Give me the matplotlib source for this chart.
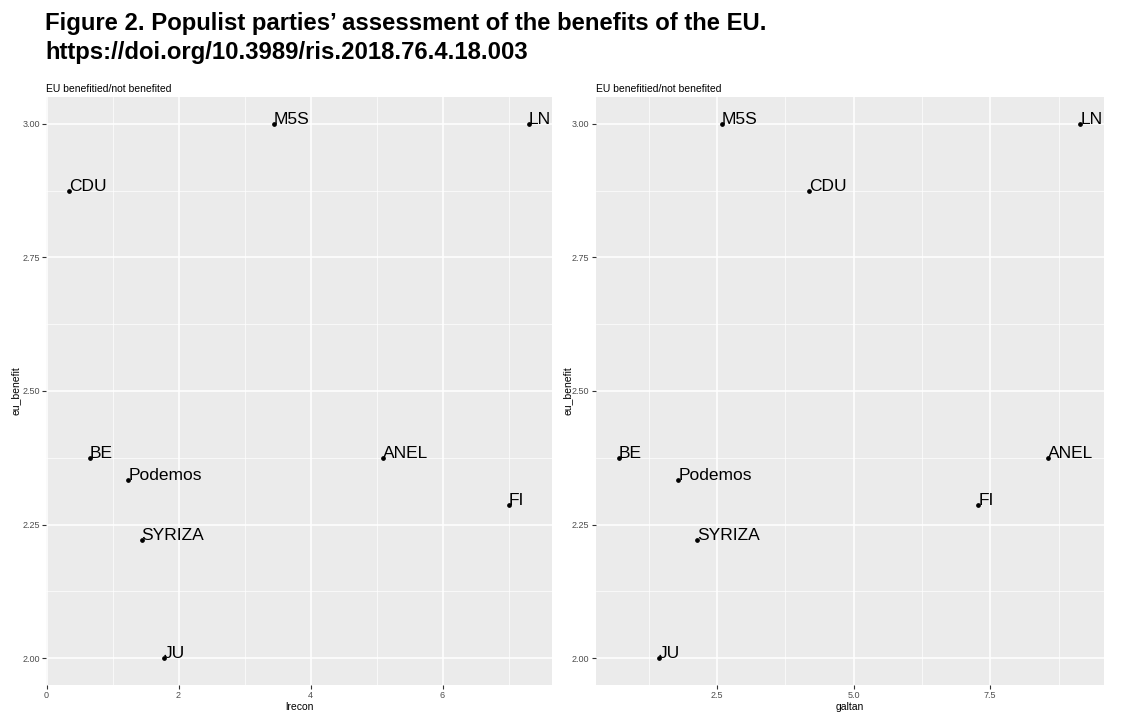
import numpy as np
import matplotlib.pyplot as plt
from matplotlib.ticker import FixedLocator

parties = ['M5S', 'LN', 'CDU', 'BE', 'Podemos', 'SYRIZA', 'JU', 'ANEL', 'FI']
eu_benefit = [3.0, 3.0, 2.875, 2.375, 2.333, 2.222, 2.0, 2.375, 2.286]
lrecon = [3.44, 7.31, 0.34, 0.66, 1.24, 1.44, 1.78, 5.10, 7.00]
galtan = [2.59, 9.15, 4.18, 0.70, 1.79, 2.14, 1.44, 8.55, 7.28]

lrecon_ticks = [0, 2, 4, 6]
lrecon_minor = [1, 3, 5, 7]
galtan_ticks = [2.5, 5.0, 7.5]
galtan_minor = [1.25, 3.75, 6.25, 8.75]
y_ticks = [2.0, 2.25, 2.5, 2.75, 3.0]
y_minor = [2.125, 2.375, 2.625, 2.875]

plt.rcParams['font.family'] = ['Liberation Sans', 'DejaVu Sans']

fig = plt.figure(figsize=(11.28, 7.21), dpi=100)
W, H = 1128, 721

fig.text(45 / W, 1 - 12 / H, "Figure 2. Populist parties\u2019 assessment of the benefits of the EU.\nhttps://doi.org/10.3989/ris.2018.76.4.18.003",
         fontsize=17.2, fontweight='bold', va='top', ha='left', linespacing=1.36)


def panel(rect, xs, xlabel, xt, xm, xfmt, ylab_x):
    ax = fig.add_axes(rect)
    ax.set_facecolor('#EBEBEB')
    for s in ax.spines.values():
        s.set_visible(False)
    ax.plot(xs, eu_benefit, 'o', color='black', markersize=2.4, zorder=3)
    for name, x, y in zip(parties, xs, eu_benefit):
        ax.text(x, y, name, fontsize=12.5, ha='left', va='baseline', zorder=4)
    ax.margins(0.05)
    ax.xaxis.set_major_locator(FixedLocator(xt))
    ax.xaxis.set_minor_locator(FixedLocator(xm))
    ax.yaxis.set_major_locator(FixedLocator(y_ticks))
    ax.yaxis.set_minor_locator(FixedLocator(y_minor))
    ax.set_xticklabels([xfmt % v for v in xt])
    ax.set_yticklabels(['%.2f' % v for v in y_ticks])
    ax.grid(which='major', color='white', linewidth=1.1)
    ax.grid(which='minor', color='white', linewidth=0.5)
    ax.set_axisbelow(True)
    ax.tick_params(which='major', length=3, width=0.8, color='#333333',
                   labelsize=6.5, labelcolor='#4D4D4D', pad=1.5)
    ax.tick_params(which='minor', length=0)
    ax.set_xlabel(xlabel, fontsize=7.5, labelpad=1.5)
    ax.set_ylabel('eu_benefit', fontsize=7.5)
    ax.yaxis.set_label_coords(ylab_x, 0.5)
    ax.set_title('EU benefitied/not benefited', fontsize=7.5, loc='left', pad=3.5)
    return ax


top, bottom = 97, 685
panel([46 / W, 1 - bottom / H, (552 - 46) / W, (bottom - top) / H],
      lrecon, 'lrecon', lrecon_ticks, lrecon_minor, '%d', -0.051)
panel([595.5 / W, 1 - bottom / H, (1103.5 - 595.5) / W, (bottom - top) / H],
      galtan, 'galtan', galtan_ticks, galtan_minor, '%.1f', -0.046)

fig.savefig('out.png', dpi=100)
